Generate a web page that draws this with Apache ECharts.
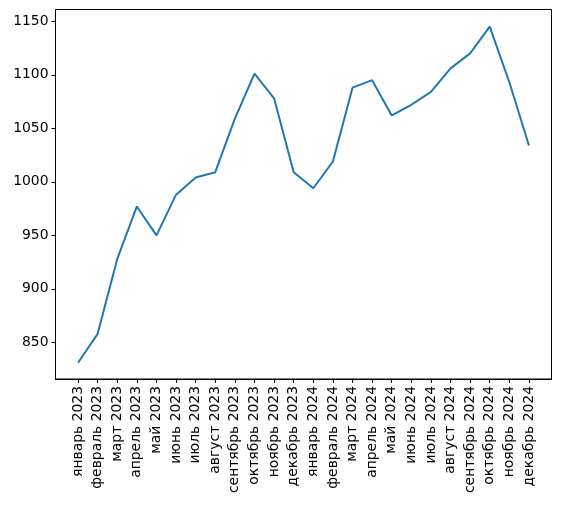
<!DOCTYPE html>
<html><head><meta charset="utf-8">
<script src="https://cdn.jsdelivr.net/npm/echarts@6/dist/echarts.min.js"></script>
<style>html,body{margin:0;padding:0;background:#fff}#c{width:561px;height:506px}</style>
</head><body><div id="c"></div>
<script>
const categories = ['январь 2023','февраль 2023','март 2023','апрель 2023','май 2023','июнь 2023','июль 2023','август 2023','сентябрь 2023','октябрь 2023','ноябрь 2023','декабрь 2023','январь 2024','февраль 2024','март 2024','апрель 2024','май 2024','июнь 2024','июль 2024','август 2024','сентябрь 2024','октябрь 2024','ноябрь 2024','декабрь 2024'];
const values = [831, 858, 928, 977, 950, 988, 1004, 1009, 1059, 1101, 1078, 1009, 994, 1019, 1088, 1095, 1062, 1072, 1084, 1106, 1120, 1145, 1093, 1034];
const yTicks = [850, 900, 950, 1000, 1050, 1100, 1150];

const xIdx = categories.map((_, i) => i);
const chart = echarts.init(document.getElementById('c'), null, {renderer: 'canvas'});
const font = 'DejaVu Sans';
chart.setOption({
  animation: false,
  grid: {left: 55.5, right: 9.5, top: 9.5, bottom: 127, show: true, borderColor: '#000', borderWidth: 1, backgroundColor: 'transparent'},
  xAxis: {
    type: 'value', min: -1.15, max: 24.15,
    splitLine: {show: false},
    axisLine: {show: true, onZero: false, lineStyle: {color: '#000', width: 1}},
    axisTick: {show: true, customValues: xIdx, length: 4, inside: false, lineStyle: {color: '#000', width: 1}},
    axisLabel: {customValues: xIdx, rotate: 90, margin: 7, color: '#000', fontFamily: font, fontSize: 13.9,
      formatter: v => categories[Math.round(v)] || ''}
  },
  yAxis: {
    type: 'value', min: 815.8, max: 1161,
    splitLine: {show: false},
    axisLine: {show: true, onZero: false, lineStyle: {color: '#000', width: 1}},
    axisTick: {show: true, customValues: yTicks, length: 4, lineStyle: {color: '#000', width: 1}},
    axisLabel: {customValues: yTicks, margin: 7, color: '#000', fontFamily: font, fontSize: 13.9,
      formatter: v => String(Math.round(v))}
  },
  series: [{
    type: 'line',
    data: values.map((v, i) => [i, v]),
    showSymbol: false,
    lineStyle: {color: '#1f77b4', width: 2},
    itemStyle: {color: '#1f77b4'}
  }]
});
</script></body></html>
